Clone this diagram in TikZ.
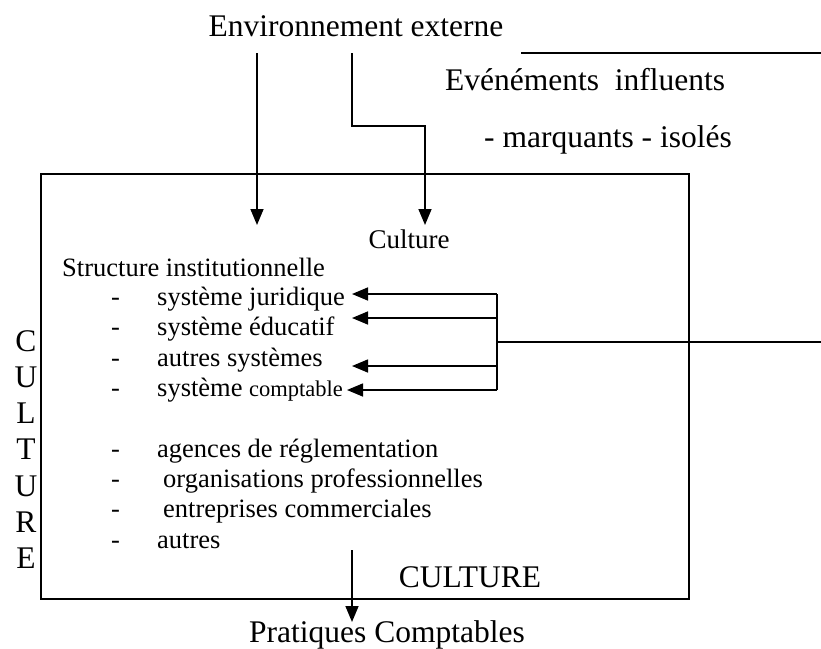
\documentclass[tikz,border=0pt]{standalone}
\usepackage{fontspec}
\setmainfont{Liberation Serif}
\usetikzlibrary{arrows.meta}
\begin{document}
\begin{tikzpicture}[x=1pt,y=-1pt,
  line/.style={line width=1.6pt},
  arr/.style={line width=1.6pt,-{Triangle[length=16pt,width=13pt]}},
  big/.style={inner sep=0pt,font=\fontsize{31.5}{36}\selectfont},
  itm/.style={inner sep=0pt,anchor=base west,font=\fontsize{26.5}{30}\selectfont},
  dsh/.style={inner sep=0pt,anchor=base west,font=\fontsize{26.5}{30}\selectfont},
]
\useasboundingbox (0,0) rectangle (821,648);
% main box
\node[draw,line width=1.8pt,minimum width=648pt,minimum height=425pt,anchor=north west,inner sep=0pt] (box) at (40,173) {};
% top texts
\node[big,anchor=base] (env) at (356,36) {Environnement externe};
\node[big,anchor=base] (evt) at (585,90) {Evénéments~~influents};
\node[big,anchor=base] (mar) at (608,147) {- marquants - isolés};
\coordinate (tl1) at (521,53);
\coordinate (tl2) at (821,53);
\draw[line] (tl1) -- (tl2);
% arrows from top
\coordinate (a1s) at (257,53);
\coordinate (a1e) at (257,225);
\coordinate (a2s) at (352,53);
\coordinate (a2m) at (352,126);
\coordinate (a2n) at (425,126);
\coordinate (a2e) at (425,225);
\draw[arr] (a1s) -- (a1e);
\draw[arr] (a2s) -- (a2m) -- (a2n) -- (a2e);
% inner texts
\node[inner sep=0pt,anchor=base,font=\fontsize{27}{30}\selectfont] (cul) at (409,248) {Culture};
\node[itm] (str) at (62,276) {Structure institutionnelle};
\foreach \y/\n in {305.6/1,335.9/2,366.2/3,396.5/4,457.1/5,487.4/6,517.7/7,548/8}
  \node[dsh] (d\n) at (111,\y) {-};
\node[itm] (i1) at (157,305.6) {système juridique};
\node[itm] (i2) at (157,335.9) {système éducatif};
\node[itm] (i3) at (157,366.2) {autres systèmes};
\node[itm] (i4) at (157,396.5) {système {\fontsize{22.5}{27}\selectfont comptable}};
\node[itm] (i5) at (157,457.1) {agences de réglementation};
\node[itm] (i6) at (163,487.4) {organisations professionnelles};
\node[itm] (i7) at (163,517.7) {entreprises commerciales};
\node[itm] (i8) at (157,548) {autres};
% bracket arrows
\coordinate (b1) at (497,294);
\coordinate (b2) at (497,318);
\coordinate (bm) at (497,342);
\coordinate (b3) at (497,366);
\coordinate (b4) at (497,390);
\coordinate (t1) at (352,294);
\coordinate (t2) at (352,318);
\coordinate (t3) at (352,366);
\coordinate (t4) at (347,390);
\coordinate (re) at (821,342);
\draw[line] (b1) -- (b4);
\draw[line] (bm) -- (re);
\draw[arr] (b1) -- (t1);
\draw[arr] (b2) -- (t2);
\draw[arr] (b3) -- (t3);
\draw[arr] (b4) -- (t4);
% vertical CULTURE
\foreach \l [count=\i] in {C,U,L,T,U,R,E}
  \node[big,anchor=base] (v\i) at (26,{351+36.3*(\i-1)}) {\l};
% bottom
\node[big,anchor=base] (cbig) at (470,587) {CULTURE};
\node[big,anchor=base] (prat) at (387,642) {Pratiques Comptables};
\coordinate (bs) at (352,550);
\coordinate (be) at (352,622);
\draw[arr] (bs) -- (be);
\end{tikzpicture}
\end{document}
